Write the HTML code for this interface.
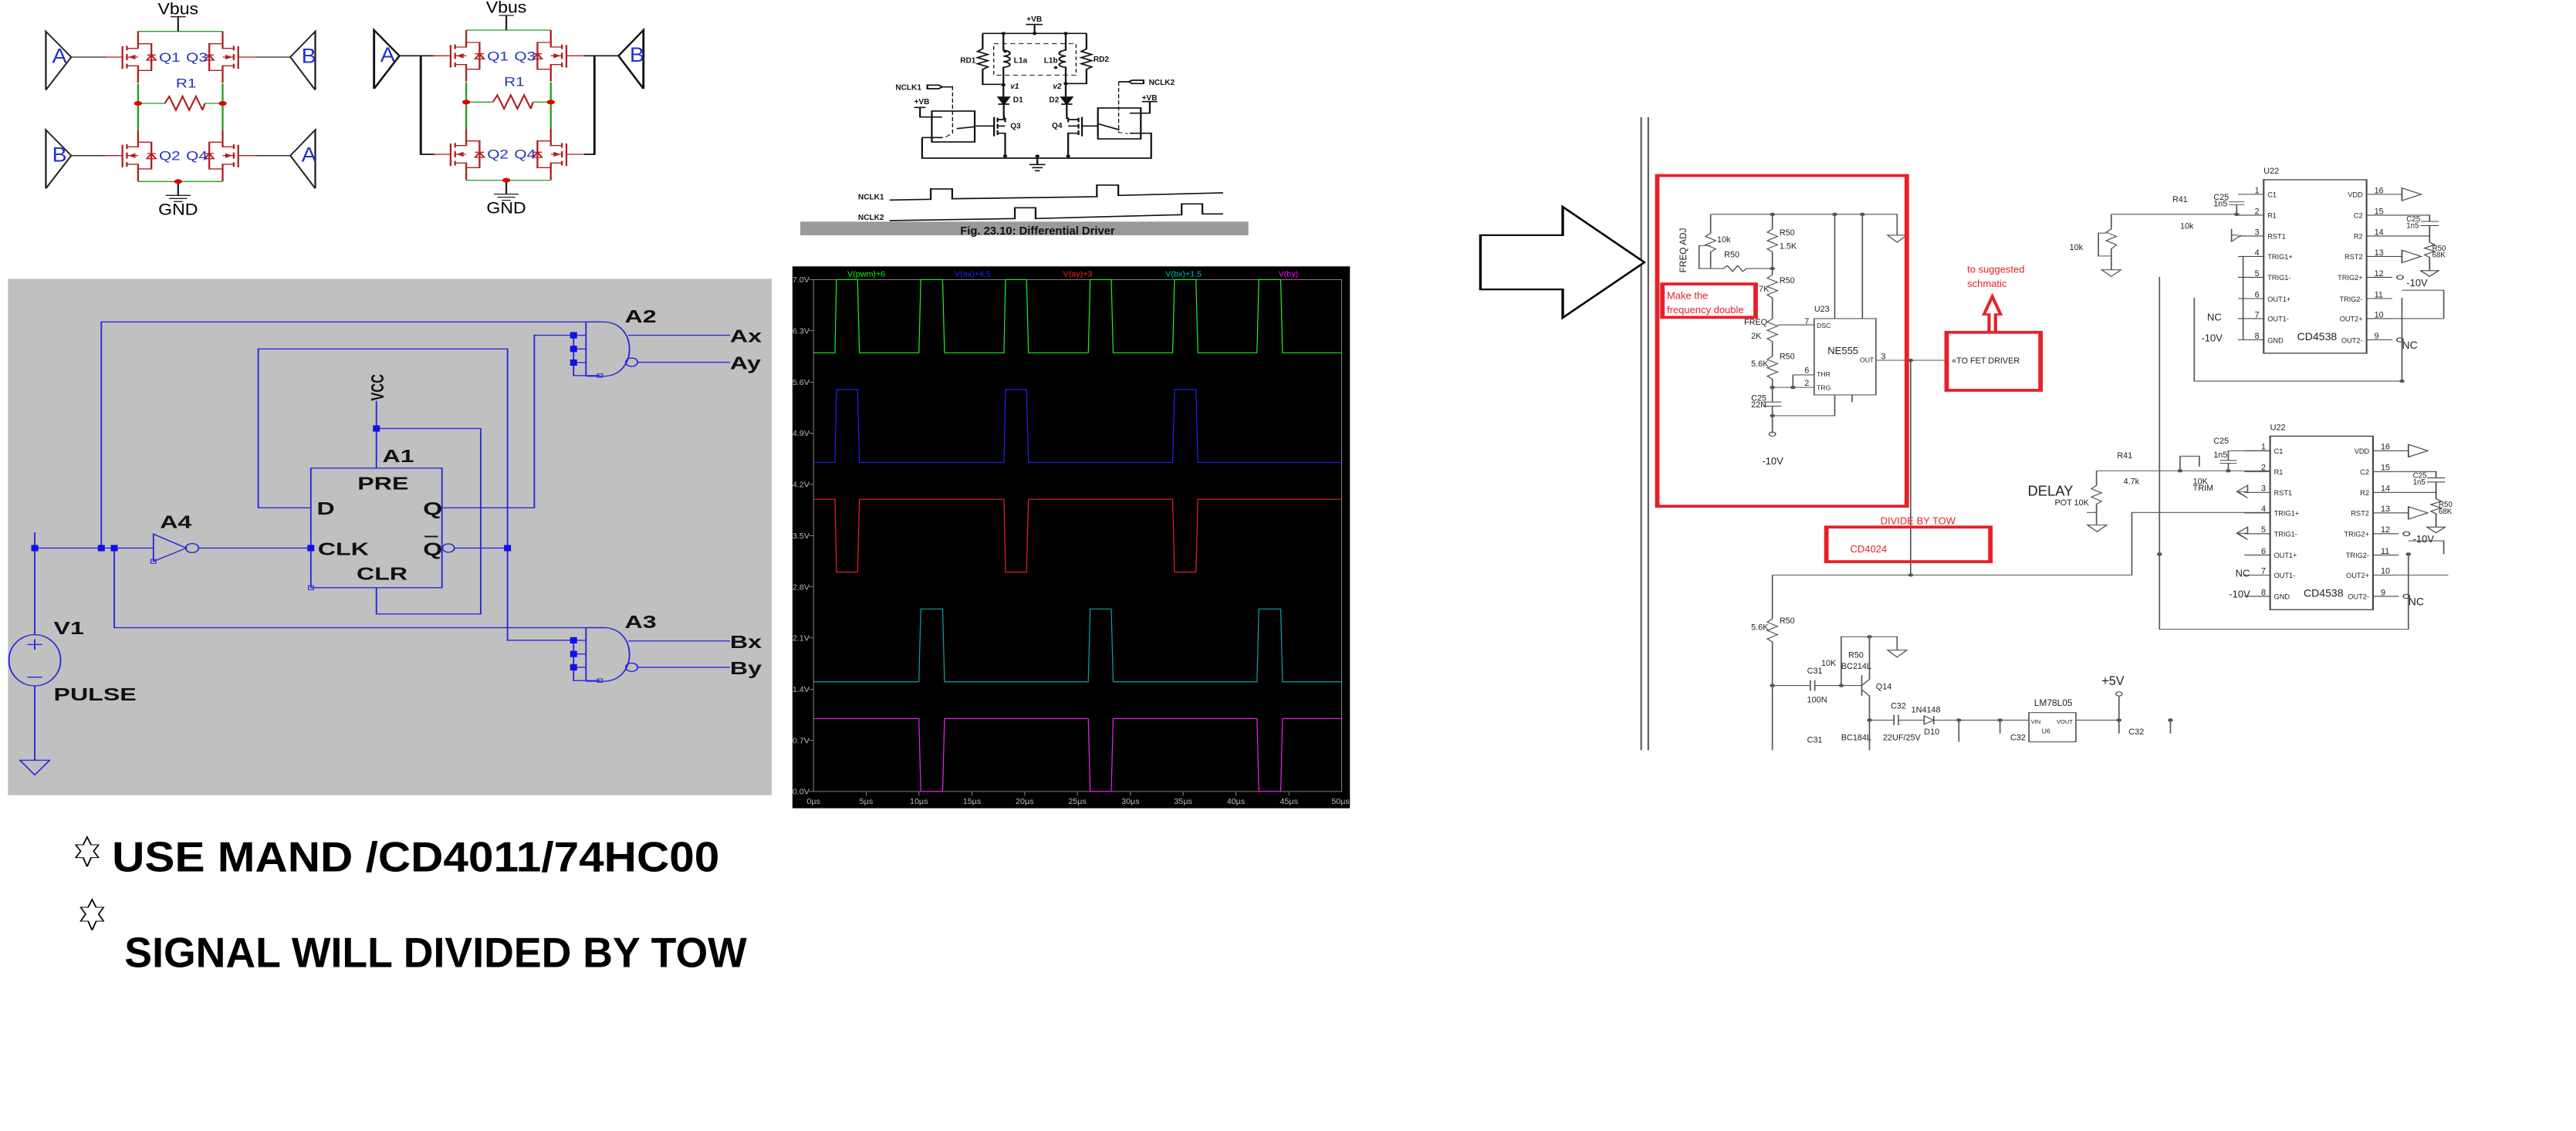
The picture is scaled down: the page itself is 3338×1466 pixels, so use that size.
<!DOCTYPE html>
<html><head><meta charset="utf-8"><style>
html,body{margin:0;padding:0;background:#fff;}
svg{display:block;}
text{font-family:"Liberation Sans",sans-serif;}
.cmp text:not(.r){transform-box:fill-box;transform-origin:0 100%;transform:scaleX(0.65);}
.cmp text.e{transform-origin:100% 100%;}
.cmp2 text{transform-box:fill-box;transform-origin:0 100%;transform:scaleX(0.75);}
</style></head><body>
<svg width="3338" height="1466" viewBox="0 0 3338 1466" xmlns="http://www.w3.org/2000/svg">
<defs>
<g id="mos" fill="none" stroke="#b02020" stroke-width="4">
  <path d="M-35 -42 V46 M-25 -44 V-26 M-25 -12 V12 M-25 26 V44 M-25 -34 H0 V-100 M-25 34 H0 V100 M-25 0 H0 M0 -52 H30 V52 H0"/>
  <path d="M20 12 H40 L30 -8 Z M20 -8 H40"/>
  <path d="M-18 0 L-8 -6 V6 Z" fill="#b02020"/>
  <path d="M-75 0 H-35" stroke="#b02020"/>
</g>
<g id="ic" class="cmp">
  <rect x="0" y="0" width="160" height="416" fill="none" stroke="#444" stroke-width="2.5"/>
  <g stroke="#444" stroke-width="2" fill="none">
    <path d="M-40 35 H0 M-40 85 H0 M-40 135 H0 M-40 184 H0 M-40 234 H0 M-40 285 H0 M-40 333 H0 M-40 384 H0"/>
    <path d="M160 35 H200 M160 85 H200 M160 135 H200 M160 184 H200 M160 234 H200 M160 285 H200 M160 333 H200 M160 384 H200"/>
  </g>
  <g font-size="17" fill="#222">
    <text x="6" y="42">C1</text><text x="6" y="92">R1</text><text x="6" y="142">RST1</text><text x="6" y="191">TRIG1+</text><text x="6" y="241">TRIG1-</text><text x="6" y="292">OUT1+</text><text x="6" y="340">OUT1-</text><text x="6" y="391">GND</text>
    <text class="e" x="154" y="42" text-anchor="end">VDD</text><text class="e" x="154" y="92" text-anchor="end">C2</text><text class="e" x="154" y="142" text-anchor="end">R2</text><text class="e" x="154" y="191" text-anchor="end">RST2</text><text class="e" x="154" y="241" text-anchor="end">TRIG2+</text><text class="e" x="154" y="292" text-anchor="end">TRIG2-</text><text class="e" x="154" y="340" text-anchor="end">OUT2+</text><text class="e" x="154" y="391" text-anchor="end">OUT2-</text>
    <text x="52" y="385" font-size="26">CD4538</text>
    <text x="-14" y="32" font-size="20">1</text><text x="-14" y="82" font-size="20">2</text><text x="-14" y="132" font-size="20">3</text><text x="-14" y="181" font-size="20">4</text><text x="-14" y="231" font-size="20">5</text><text x="-14" y="282" font-size="20">6</text><text x="-14" y="330" font-size="20">7</text><text x="-14" y="381" font-size="20">8</text>
    <text x="172" y="32" font-size="20">16</text><text x="172" y="82" font-size="20">15</text><text x="172" y="132" font-size="20">14</text><text x="172" y="181" font-size="20">13</text><text x="172" y="231" font-size="20">12</text><text x="172" y="282" font-size="20">11</text><text x="172" y="330" font-size="20">10</text><text x="172" y="381" font-size="20">9</text>
    <text x="0" y="-15" font-size="20">U22</text>
    <text x="222" y="255" font-size="24">-10V</text><text x="215" y="405" font-size="26">NC</text>
    <text x="222" y="100" font-size="18">C25</text><text x="222" y="116" font-size="18">1n5</text>
    <text x="262" y="170" font-size="18">R50</text><text x="262" y="186" font-size="18">68K</text>
  </g>
  <g stroke="#444" stroke-width="2" fill="none">
    <path d="M200 35 H215 M215 20 V50 L245 35 Z"/>
    <path d="M200 184 H215 M215 169 V199 L245 184 Z"/>
    <path d="M200 85 H258 V100 M244 100 H272 M244 110 H272 M258 110 V135 M200 135 H258 V150 L266 156 L250 164 L266 172 L250 180 L258 186 V218 M244 218 H272 L258 232 Z"/>
    <circle cx="212" cy="234" r="5"/><circle cx="212" cy="384" r="5"/>
  </g>
</g>
</defs>

<!-- Panel 1: H-bridges -->
<g transform="scale(0.5770,0.3333)">
  <g stroke-width="4" fill="none">
    <path d="M310 122 H500 M310 325 V505 M500 325 V505 M310 706 H500 M310 402 H370 M460 402 H500" stroke="#20a020"/>
    <path d="M370 402 L380 375 L395 428 L410 375 L425 428 L440 375 L455 428 L460 402" stroke="#b02020"/>
    <path d="M400 122 V65 M383 65 H417 M400 706 V760 M372 760 H428 M380 772 H420 M390 784 H410" stroke="#222"/>
    <path d="M103 122 L160 222 L103 350 Z M160 222 H240 M708 122 L652 222 L708 350 Z M652 222 H575 M103 505 L160 605 L103 733 Z M160 605 H240 M708 505 L652 605 L708 733 Z M652 605 H575" stroke="#222"/>
  </g>
  <use href="#mos" transform="translate(310,222)"/>
  <use href="#mos" transform="translate(500,222) scale(-1,1)"/>
  <use href="#mos" transform="translate(310,605)"/>
  <use href="#mos" transform="translate(500,605) scale(-1,1)"/>
  <circle cx="310" cy="402" r="9" fill="#d00"/><circle cx="500" cy="402" r="9" fill="#d00"/><circle cx="400" cy="706" r="9" fill="#d00"/>
  <g fill="#2233cc" font-size="50">
    <text x="117" y="245" transform="translate(117,245) scale(1,1.6) translate(-117,-245)">A</text>
    <text x="677" y="245" transform="translate(677,245) scale(1,1.6) translate(-677,-245)">B</text>
    <text x="117" y="628" transform="translate(117,628) scale(1,1.6) translate(-117,-628)">B</text>
    <text x="677" y="628" transform="translate(677,628) scale(1,1.6) translate(-677,-628)">A</text>
    <text x="357" y="240" font-size="36" transform="translate(357,240) scale(1,1.4) translate(-357,-240)">Q1</text>
    <text x="418" y="240" font-size="36" transform="translate(418,240) scale(1,1.4) translate(-418,-240)">Q3</text>
    <text x="357" y="622" font-size="36" transform="translate(357,622) scale(1,1.4) translate(-357,-622)">Q2</text>
    <text x="418" y="622" font-size="36" transform="translate(418,622) scale(1,1.4) translate(-418,-622)">Q4</text>
    <text x="395" y="340" font-size="36" transform="translate(395,340) scale(1,1.4) translate(-395,-340)">R1</text>
  </g>
  <text x="400" y="55" font-size="40" text-anchor="middle" font-family="Liberation Serif,serif" transform="translate(400,55) scale(1,1.6) translate(-400,-55)">Vbus</text>
  <text x="400" y="835" font-size="40" text-anchor="middle" font-family="Liberation Serif,serif" transform="translate(400,835) scale(1,1.6) translate(-400,-835)">GND</text>

  <g transform="translate(737,-5)">
    <g stroke-width="4" fill="none">
      <path d="M310 122 H500 M310 325 V505 M500 325 V505 M310 706 H500 M310 402 H370 M460 402 H500" stroke="#20a020"/>
      <path d="M370 402 L380 375 L395 428 L410 375 L425 428 L440 375 L455 428 L460 402" stroke="#b02020"/>
      <path d="M400 122 V65 M383 65 H417 M400 706 V760 M372 760 H428 M380 772 H420 M390 784 H410" stroke="#222"/>
      <path d="M103 122 L160 222 L103 350 Z M160 222 H240 M708 122 L652 222 L708 350 Z M652 222 H575 M208 222 V605 H240 M598 222 V605 H575" stroke="#111" stroke-width="5"/>
    </g>
    <use href="#mos" transform="translate(310,222)"/>
    <use href="#mos" transform="translate(500,222) scale(-1,1)"/>
    <use href="#mos" transform="translate(310,605)"/>
    <use href="#mos" transform="translate(500,605) scale(-1,1)"/>
    <circle cx="310" cy="402" r="9" fill="#d00"/><circle cx="500" cy="402" r="9" fill="#d00"/><circle cx="400" cy="706" r="9" fill="#d00"/>
    <g fill="#2233cc" font-size="50">
      <text x="117" y="245" transform="translate(117,245) scale(1,1.6) translate(-117,-245)">A</text>
      <text x="677" y="245" transform="translate(677,245) scale(1,1.6) translate(-677,-245)">B</text>
      <text x="357" y="240" font-size="36" transform="translate(357,240) scale(1,1.4) translate(-357,-240)">Q1</text>
      <text x="418" y="240" font-size="36" transform="translate(418,240) scale(1,1.4) translate(-418,-240)">Q3</text>
      <text x="357" y="622" font-size="36" transform="translate(357,622) scale(1,1.4) translate(-357,-622)">Q2</text>
      <text x="418" y="622" font-size="36" transform="translate(418,622) scale(1,1.4) translate(-418,-622)">Q4</text>
      <text x="395" y="340" font-size="36" transform="translate(395,340) scale(1,1.4) translate(-395,-340)">R1</text>
    </g>
    <text x="400" y="55" font-size="40" text-anchor="middle" font-family="Liberation Serif,serif" transform="translate(400,55) scale(1,1.6) translate(-400,-55)">Vbus</text>
    <text x="400" y="835" font-size="40" text-anchor="middle" font-family="Liberation Serif,serif" transform="translate(400,835) scale(1,1.6) translate(-400,-835)">GND</text>
  </g>
</g>

<!-- Panel 2: differential driver -->
<g transform="translate(1020,0) scale(0.4484,0.3333)">
  <g stroke="#111" stroke-width="5" fill="none">
    <path d="M690 95 H738 M715 95 V130 M565 130 H865"/>
    <path d="M565 130 V190 L550 200 L580 212 L550 224 L580 236 L550 248 L580 260 L565 270 V328 H625"/>
    <path d="M865 130 V190 L850 200 L880 212 L850 224 L880 236 L850 248 L880 260 L865 270 V325 H805"/>
    <path d="M625 130 V195 C650 200 650 215 625 218 C650 222 650 237 625 240 C650 244 650 259 625 262 V378"/>
    <path d="M805 130 V195 C780 200 780 215 805 218 C780 222 780 237 805 240 C780 244 780 259 805 262 V378"/>
    <rect x="597" y="170" width="238" height="122" stroke-dasharray="14 10" stroke-width="3"/>
    <path d="M610 378 H642 L626 405 Z M610 405 H642 M626 405 V460 H630 V475" fill="#111"/>
    <path d="M792 378 H824 L808 405 Z M792 405 H824 M808 405 V460 H812 V475" fill="#111"/>
    <path d="M598 455 V530 M608 458 V475 M608 482 V500 M608 507 V525 M608 465 H630 M608 518 H630 V605 M608 490 H630"/>
    <path d="M852 455 V530 M842 458 V475 M842 482 V500 M842 507 V525 M842 465 H812 M842 518 H812 V605 M842 490 H812"/>
    <path d="M545 490 H598 M852 490 H900"/>
    <rect x="418" y="432" width="124" height="120"/>
    <rect x="898" y="420" width="124" height="120"/>
    <path d="M390 535 H450 M390 535 V615 H1052 V518 H990 M723 605 V640 M700 640 H746 M708 652 H738 M716 664 H730"/>
    <path d="M367 418 H400 M384 418 V455 H448 M1025 395 H1070 M1048 395 V440 H990"/>
    <path d="M478 335 V518 L455 535 M958 318 V515 L985 520" stroke-dasharray="16 8" stroke-width="3"/>
    <path d="M542 493 L490 500 M900 482 L960 505"/>
    <path d="M405 331 H438 L448 338 L438 345 H405 Z M448 338 H478 M1030 312 H997 L987 318 L997 325 H1030 Z M987 318 H958"/>
    <path d="M296 778 L415 775 V735 H477 V773 L895 765 V720 H957 V760 L1260 750"/>
    <path d="M296 858 L658 850 V808 H718 V850 L1140 835 V793 H1200 V832 H1260"/>
  </g>
  <g fill="#111">
    <circle cx="625" cy="130" r="6"/><circle cx="805" cy="130" r="6"/><circle cx="715" cy="130" r="6"/>
    <circle cx="625" cy="330" r="6"/><circle cx="805" cy="325" r="6"/><circle cx="630" cy="607" r="6"/><circle cx="812" cy="607" r="6"/><circle cx="723" cy="607" r="6"/>
    <circle cx="630" cy="200" r="5"/><circle cx="776" cy="263" r="5"/>
  </g>
  <g class="cmp2" font-size="30" font-weight="bold" fill="#111">
    <text x="692" y="84">+VB</text><text x="500" y="245">RD1</text><text x="655" y="245">L1a</text><text x="742" y="245">L1b</text><text x="885" y="240">RD2</text>
    <text x="645" y="345" font-style="italic">v1</text><text x="768" y="345" font-style="italic">v2</text>
    <text x="313" y="350">NCLK1</text><text x="1045" y="330">NCLK2</text><text x="367" y="405">+VB</text><text x="1025" y="390">+VB</text>
    <text x="653" y="398">D1</text><text x="757" y="398">D2</text><text x="645" y="500">Q3</text><text x="765" y="498">Q4</text>
    <text x="205" y="775">NCLK1</text><text x="205" y="855">NCLK2</text>
  </g>
  <rect x="38" y="862" width="1295" height="53" fill="#9a9a9a"/>
  <g class="cmp2"><text x="500" y="912" font-size="44" font-weight="bold" fill="#111">Fig. 23.10: Differential Driver</text></g>
</g>

<!-- Panel 3: LTspice schematic -->
<g transform="translate(0,340) scale(0.6435,0.4545)">
  <rect x="16" y="47" width="1538" height="1473" fill="#c0c0c0"/>
  <g stroke="#2b2bd8" stroke-width="3" fill="none">
    <path d="M70 770 V1062 M70 1208 V1420 M40 1420 H100 L70 1462 Z"/>
    <ellipse cx="70" cy="1135" rx="52" ry="73"/>
    <path d="M70 1075 V1105 M55 1090 H85 M55 1183 H85"/>
    <path d="M70 815 H309 M204 815 V170 H1215 M230 815 V1042 H1215"/>
    <path d="M309 775 V853 L375 815 Z"/>
    <circle cx="387" cy="815" r="13"/>
    <path d="M400 815 H626"/>
    <rect x="626" y="587" width="264" height="341"/>
    <path d="M626 700 H520 V247 H1022 V1078 H1155"/>
    <path d="M890 700 H1076 V208 H1155"/>
    <circle cx="903" cy="815" r="12"/>
    <path d="M915 815 H1022"/>
    <path d="M758 395 V587 M758 474 H968 V1003 H758 V928"/>
    <path d="M1180 170 V325 M1180 170 H1215 C1285 170 1285 325 1215 325 H1180"/>
    <circle cx="1272" cy="285" r="12"/>
    <path d="M1265 208 H1470 M1284 285 H1470 M1155 208 H1180 M1155 247 H1180 M1155 286 H1180 M1155 208 V323 H1208"/>
    <path d="M1180 1042 V1195 M1180 1042 H1215 C1285 1042 1285 1195 1215 1195 H1180"/>
    <circle cx="1272" cy="1155" r="12"/>
    <path d="M1265 1080 H1470 M1284 1155 H1470 M1155 1078 H1180 M1155 1117 H1180 M1155 1155 H1180 M1155 1078 V1193 H1208"/>
    <rect x="1203" y="318" width="10" height="10" stroke-width="2"/><rect x="1203" y="1188" width="10" height="10" stroke-width="2"/>
    <rect x="304" y="847" width="10" height="12" stroke-width="2"/><rect x="621" y="922" width="10" height="12" stroke-width="2"/>
  </g>
  <g fill="#1010ee">
    <rect x="63" y="806" width="14" height="18"/><rect x="197" y="806" width="14" height="18"/><rect x="223" y="806" width="14" height="18"/>
    <rect x="619" y="806" width="14" height="18"/><rect x="1015" y="806" width="14" height="18"/><rect x="751" y="465" width="14" height="18"/>
    <rect x="1148" y="199" width="14" height="18"/><rect x="1148" y="238" width="14" height="18"/><rect x="1148" y="277" width="14" height="18"/>
    <rect x="1148" y="1069" width="14" height="18"/><rect x="1148" y="1108" width="14" height="18"/><rect x="1148" y="1146" width="14" height="18"/>
  </g>
  <g font-size="50" font-weight="bold" fill="#111">
    <text x="1258" y="172">A2</text><text x="1258" y="1043">A3</text><text x="770" y="570">A1</text><text x="322" y="758">A4</text>
    <text x="1470" y="228">Ax</text><text x="1470" y="305">Ay</text><text x="1470" y="1100">Bx</text><text x="1470" y="1175">By</text>
    <text x="720" y="648">PRE</text><text x="638" y="720">D</text><text x="852" y="720">Q</text><text x="640" y="835">CLK</text><text x="852" y="835">Q</text><text x="718" y="905">CLR</text>
    <text x="108" y="1060">V1</text><text x="108" y="1250">PULSE</text>
    <text x="0" y="0" font-size="36" transform="translate(772,395) rotate(-90)">VCC</text>
  </g>
  <path d="M855 782 H882" stroke="#111" stroke-width="4"/>
</g>

<!-- Panel 4: waveforms -->
<g transform="translate(1020,330) scale(0.4878,0.463)">
  <rect x="14" y="33" width="1481" height="1517" fill="#000"/>
  <rect x="70" y="70" width="1403" height="1433" fill="none" stroke="#888" stroke-width="2"/>
  <g stroke="#888" stroke-width="2">
    <path d="M58 70 H70 M58 213 H70 M58 357 H70 M58 500 H70 M58 643 H70 M58 787 H70 M58 930 H70 M58 1073 H70 M58 1217 H70 M58 1360 H70 M58 1503 H70"/>
    <path d="M210 1503 V1515 M350 1503 V1515 M491 1503 V1515 M631 1503 V1515 M771 1503 V1515 M912 1503 V1515 M1052 1503 V1515 M1192 1503 V1515 M1333 1503 V1515"/>
  </g>
  <g font-size="22" fill="#bbb">
    <text x="14" y="78">7.0V</text><text x="14" y="221">6.3V</text><text x="14" y="365">5.6V</text><text x="14" y="508">4.9V</text><text x="14" y="651">4.2V</text><text x="14" y="795">3.5V</text><text x="14" y="938">2.8V</text><text x="14" y="1081">2.1V</text><text x="14" y="1225">1.4V</text><text x="14" y="1368">0.7V</text><text x="14" y="1511">0.0V</text>
    <g text-anchor="middle"><text x="70" y="1538">0µs</text><text x="210" y="1538">5µs</text><text x="350" y="1538">10µs</text><text x="491" y="1538">15µs</text><text x="631" y="1538">20µs</text><text x="771" y="1538">25µs</text><text x="912" y="1538">30µs</text><text x="1052" y="1538">35µs</text><text x="1192" y="1538">40µs</text><text x="1333" y="1538">45µs</text><text x="1470" y="1538">50µs</text></g>
  </g>
  <g font-size="22">
    <text x="160" y="62" fill="#0f0">V(pwm)+6</text><text x="445" y="62" fill="#22f">V(ax)+4.5</text><text x="733" y="62" fill="#f22">V(ay)+3</text><text x="1005" y="62" fill="#0bb">V(bx)+1.5</text><text x="1305" y="62" fill="#f0f">V(by)</text>
  </g>
  <g fill="none" stroke-width="2.5">
    <path stroke="#22ee22" d="M70 275 H127 L131 70 H187 L192 275 H350 L355 70 H413 L418 275 H576 L580 70 H636 L641 275 H800 L805 70 H861 L866 275 H1024 L1029 70 H1086 L1091 275 H1248 L1253 70 H1311 L1316 275 H1473"/>
    <path stroke="#2020ee" d="M70 582 H127 L131 378 H187 L192 582 H576 L580 378 H636 L641 582 H1024 L1029 378 H1086 L1091 582 H1473"/>
    <path stroke="#ee2020" d="M70 685 H127 L131 889 H187 L192 685 H576 L580 889 H636 L641 685 H1024 L1029 889 H1086 L1091 685 H1473"/>
    <path stroke="#10a0a0" d="M70 1196 H350 L355 992 H413 L418 1196 H800 L805 992 H861 L866 1196 H1248 L1253 992 H1311 L1316 1196 H1473"/>
    <path stroke="#ee20ee" d="M70 1299 H350 L355 1503 H413 L418 1299 H800 L805 1503 H861 L866 1299 H1248 L1253 1503 H1311 L1316 1299 H1473"/>
  </g>
</g>

<!-- Panel 5: right schematic -->
<g transform="translate(1900,140) scale(0.8333,0.5405)" class="cmp">
  <path d="M272 22 V1540 M283 22 V1540" stroke="#555" stroke-width="2.5"/>
  <polygon points="22,305 150,305 150,237 277,370 150,503 150,435 22,435" fill="#fff" stroke="#000" stroke-width="4"/>
  <g stroke="#555" stroke-width="2" fill="none">
    <path d="M380 255 H670 V305 M655 305 H685 L670 322 Z"/>
    <path d="M476 255 V290 L468 298 L484 308 L468 318 L484 328 L468 338 L476 345 V385 V400 L468 408 L484 418 L468 428 L484 438 L468 448 L476 455 V505 L468 513 L484 523 L468 533 L484 543 L468 553 L476 560 V595 L468 603 L484 613 L468 623 L484 633 L468 643 L476 650 V705 M462 705 H490 M462 715 H490 M476 715 V780"/>
    <path d="M380 255 V300 L372 308 L388 318 L372 328 L388 338 L380 345 V385 H400 L406 378 L414 392 L422 378 L430 392 L436 385 H476 M380 330 H362 V385 H380"/>
    <path d="M573 255 V505 M616 255 V505 M484 520 H541 M476 670 H541 M508 640 H541 M508 640 V670 M476 738 H573 V688 M600 688 V705"/>
    <rect x="541" y="505" width="96" height="183"/>
    <path d="M637 605 H750 M691 605 V1120 M476 1120 H1035 V970 H1250"/>
    <path d="M476 1120 V1225 L468 1233 L484 1243 L468 1253 L484 1263 L468 1273 L476 1280 V1540 M476 1385 H535 M535 1372 V1398 M542 1372 V1398 M542 1385 H615 M583 1385 V1268 H670 V1300 M655 1300 H685 L670 1317 Z M627 1268 V1370 L615 1385 M615 1360 V1410 M615 1395 L627 1410 V1540 M627 1468 H665 M665 1455 V1480 M672 1455 V1480 M672 1468 H712 M712 1458 V1478 L727 1468 Z M727 1458 V1478 M727 1468 H875 M766 1468 V1520 M830 1468 V1500 M1095 1468 V1500 M875 1450 H948 V1520 H875 Z M948 1468 H1015 V1410 M1015 1468 V1500"/>
    <circle cx="476" cy="782" r="5"/><circle cx="1015" cy="1405" r="5"/>
    <path d="M1003 255 H1200 M1003 255 V290 L995 298 L1011 308 L995 318 L1011 328 L1003 338 V355 H983 V300 H995 M1003 355 V388 M988 388 H1018 L1003 404 Z M1186 225 H1210 M1186 232 H1210 M1198 232 V255"/>
    <path d="M1078 405 V1250 H1465 V1070 M1132 455 V655 H1455 V455 M1208 355 V555 M1190 305 H1200 M1190 290 V320 L1205 305"/>
    <path d="M980 870 H1110 M980 870 V905 L972 913 L988 923 L972 933 L988 943 L980 950 V970 M965 970 H980 V1000 M966 1000 H996 L981 1016 Z M1110 870 V835 H1140 V860 M1110 870 H1250 M1172 845 H1198 M1172 852 H1198 M1185 852 V870 M1185 845 V822 H1250"/>
    <path d="M1200 920 H1215 V905 L1198 920 L1215 935 Z M1200 1020 H1215 V1005 L1198 1020 L1215 1035 Z"/>
    <path d="M1455 437 H1520 V505 M1465 1038 H1520 V1070 M1440 505 H1520 M1450 1120 H1527"/>
  </g>
  <g fill="#555"><circle cx="476" cy="255" r="4"/><circle cx="573" cy="255" r="4"/><circle cx="616" cy="255" r="4"/><circle cx="476" cy="385" r="4"/><circle cx="476" cy="670" r="4"/><circle cx="508" cy="670" r="4"/><circle cx="476" cy="738" r="4"/><circle cx="691" cy="605" r="4"/><circle cx="691" cy="1120" r="4"/><circle cx="476" cy="1385" r="4"/><circle cx="583" cy="1385" r="4"/><circle cx="627" cy="1268" r="4"/><circle cx="627" cy="1468" r="4"/><circle cx="766" cy="1468" r="4"/><circle cx="830" cy="1468" r="4"/><circle cx="1095" cy="1468" r="4"/><circle cx="1015" cy="1468" r="4"/><circle cx="1455" cy="655" r="4"/><circle cx="1078" cy="1070" r="4"/><circle cx="1465" cy="1070" r="4"/><circle cx="1198" cy="255" r="4"/><circle cx="1185" cy="870" r="4"/><circle cx="1110" cy="870" r="4"/></g>
  <use href="#ic" transform="translate(1240,172)"/>
  <use href="#ic" transform="translate(1250,787)"/>
  <g font-size="20" fill="#222">
    <text x="487" y="305">R50</text><text x="487" y="338">1.5K</text><text x="390" y="322">10k</text><text x="401" y="358">R50</text>
    <text x="487" y="420">R50</text><text x="455" y="440">7K</text><text x="432" y="520">FREQ</text><text x="443" y="553">2K</text>
    <text x="487" y="602">R50</text><text x="443" y="620">5.6K</text><text x="443" y="702">C25</text><text x="443" y="718">22N</text>
    <text x="541" y="488">U23</text><text x="545" y="527" font-size="16">DSC</text><text x="545" y="644" font-size="16">THR</text><text x="545" y="676" font-size="16">TRG</text>
    <text x="612" y="610" font-size="16">OUT</text><text x="562" y="590" font-size="24">NE555</text><text x="645" y="602">3</text><text x="526" y="518">7</text><text x="526" y="636">6</text><text x="526" y="666">2</text>
    <text x="460" y="855" font-size="24">-10V</text>
    <text x="1098" y="226">R41</text><text x="1110" y="290">10k</text><text x="1162" y="220">C25</text><text x="1162" y="236">1n5</text><text x="938" y="340">10k</text>
    <text x="1152" y="510" font-size="24">NC</text><text x="1143" y="560" font-size="24">-10V</text>
    <text x="1012" y="840">R41</text><text x="1022" y="902">4.7k</text><text x="1130" y="902">10K</text><text x="1130" y="918">TRIM</text><text x="1162" y="805">C25</text><text x="1162" y="838">1n5</text>
    <text x="873" y="930" font-size="34">DELAY</text><text x="915" y="953">POT 10K</text>
    <text x="1196" y="1124" font-size="24">NC</text><text x="1186" y="1174" font-size="24">-10V</text>
    <text x="487" y="1236">R50</text><text x="443" y="1252">5.6K</text><text x="552" y="1338">10K</text><text x="594" y="1318">R50</text><text x="583" y="1345">BC214L</text>
    <text x="530" y="1356">C31</text><text x="530" y="1426">100N</text><text x="637" y="1394">Q14</text><text x="660" y="1440">C32</text><text x="692" y="1450">1N4148</text>
    <text x="712" y="1502">D10</text><text x="648" y="1516">22UF/25V</text><text x="583" y="1516">BC184L</text><text x="530" y="1522">C31</text><text x="846" y="1516">C32</text>
    <text x="883" y="1434" font-size="22">LM78L05</text><text x="878" y="1476" font-size="14">VIN</text><text x="918" y="1476" font-size="14">VOUT</text><text x="895" y="1500" font-size="16">U6</text><text x="1030" y="1502">C32</text>
    <text x="988" y="1384" font-size="30">+5V</text>
  </g>
  <text class="r" x="0" y="0" font-size="22" fill="#222" transform="translate(342,395) rotate(-90) scale(1,0.65)">FREQ ADJ</text>
  <g stroke="#e8202a" fill="none" stroke-width="7">
    <rect x="297" y="162" width="388" height="793"/>
    <rect x="305" y="422" width="145" height="80"/>
    <rect x="747" y="538" width="146" height="139"/>
    <rect x="560" y="1005" width="255" height="83"/>
    <path d="M813 538 V495 H805 L818 452 L831 495 H823 V538" stroke-width="5"/>
  </g>
  <g fill="#e8202a" font-size="24">
    <text x="312" y="458">Make the</text><text x="312" y="492">frequency double</text>
    <text x="779" y="395">to suggested</text><text x="779" y="429">schmatic</text>
    <text x="644" y="998">DIVIDE BY TOW</text><text x="597" y="1066">CD4024</text>
  </g>
  <text x="755" y="612" font-size="20" fill="#222">«TO FET DRIVER</text>
</g>

<!-- Bottom notes -->
<g transform="translate(0,1040) scale(0.6452,0.3333)">
  <polygon points="175,135 183,165 198,165 188,190 198,215 183,215 175,250 167,215 152,215 162,190 152,165 167,165" fill="#fff" stroke="#000" stroke-width="3"/>
  <polygon points="185,378 193,408 208,408 198,435 208,462 193,462 185,497 177,462 162,462 172,435 162,408 177,408" fill="#fff" stroke="#000" stroke-width="3"/>
  <text x="225" y="268" font-size="110" font-weight="bold" fill="#000" textLength="1220" lengthAdjust="spacingAndGlyphs" transform="translate(0,268) scale(1,1.5) translate(0,-268)">USE MAND  /CD4011/74HC00</text>
  <text x="250" y="640" font-size="110" font-weight="bold" fill="#000" textLength="1250" lengthAdjust="spacingAndGlyphs" transform="translate(0,640) scale(1,1.5) translate(0,-640)">SIGNAL WILL DIVIDED BY TOW</text>
</g>
</svg>
</body></html>
